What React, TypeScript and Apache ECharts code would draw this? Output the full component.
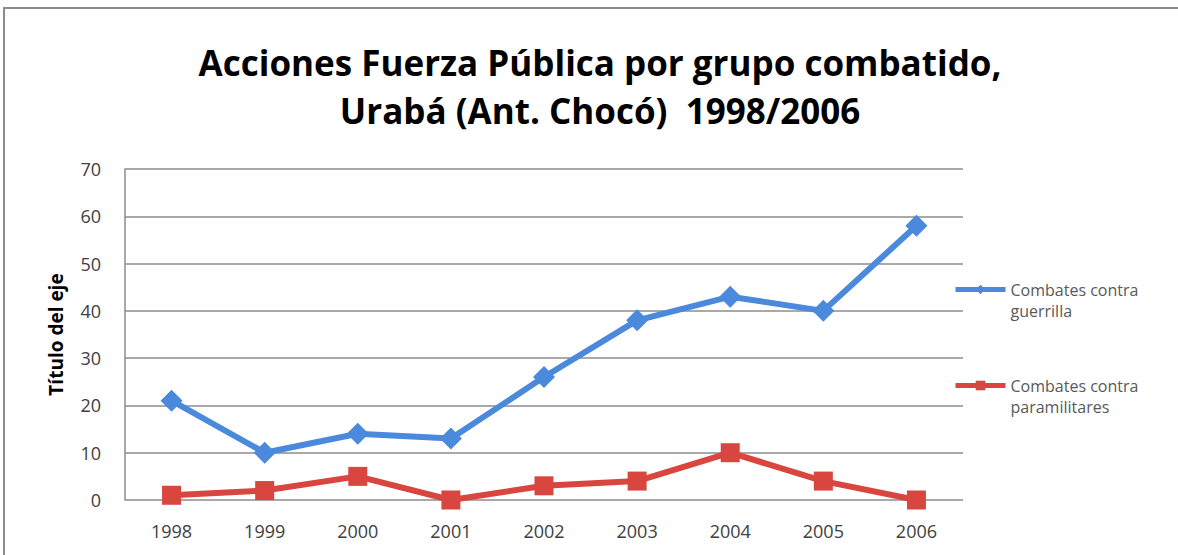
import React, { useEffect, useRef } from "react";
import * as echarts from "echarts";

const years = ["1998", "1999", "2000", "2001", "2002", "2003", "2004", "2005", "2006"];
const guerrilla = [21, 10, 14, 13, 26, 38, 43, 40, 58];
const paramilitares = [1, 2, 5, 0, 3, 4, 10, 4, 0];
const seriesNames = ["Combates contra guerrilla", "Combates contra paramilitares"];
const titleText = "Acciones Fuerza Pública por grupo combatido,\nUrabá (Ant. Chocó)  1998/2006";
const yAxisTitle = "Título del eje";

const FONT = "'Open Sans', Lato, sans-serif";
const BLUE = "#4a89dc";
const RED = "#d9453f";

export default function App() {
  const ref = useRef<HTMLDivElement>(null);
  useEffect(() => {
    const chart = echarts.init(ref.current!, null, { renderer: "svg" });
    const legendCommon = {
      left: 948,
      itemWidth: 50,
      itemHeight: 12,
      formatter: (n: string) => "\n" + n.replace("contra ", "contra\n"),
      textStyle: {
        color: "#595959",
        fontSize: 16,
        fontFamily: FONT,
        lineHeight: 21,
      },
      lineStyle: { width: 5 },
    };
    chart.setOption({
      animation: false,
      backgroundColor: "#ffffff",
      title: {
        text: titleText,
        left: 595,
        textAlign: "center",
        top: 33,
        textStyle: {
          fontFamily: FONT,
          fontWeight: "bold",
          fontSize: 35,
          lineHeight: 48,
          color: "#000000",
        },
      },
      graphic: [
        {
          type: "rect",
          shape: { x: 4, y: 8, width: 1200, height: 600 },
          style: { fill: "none", stroke: "#8c8c8c", lineWidth: 2 },
          silent: true,
          z: -1,
        },
      ],
      legend: [
        { ...legendCommon, data: [seriesNames[0]], top: 253 },
        { ...legendCommon, data: [seriesNames[1]], top: 349 },
      ],
      grid: { left: 125, right: 215, top: 169, bottom: 55, containLabel: false },
      xAxis: {
        type: "category",
        data: years,
        boundaryGap: true,
        axisLine: { show: false },
        axisTick: { show: false },
        axisLabel: {
          color: "#404040",
          fontSize: 18,
          fontFamily: FONT,
          margin: 22,
        },
      },
      yAxis: {
        type: "value",
        min: 0,
        max: 70,
        interval: 10,
        name: yAxisTitle,
        nameLocation: "middle",
        nameGap: 60,
        nameRotate: 90,
        nameTextStyle: {
          color: "#000000",
          fontWeight: "bold",
          fontSize: 19,
          fontFamily: FONT,
        },
        axisLine: { show: true, lineStyle: { color: "#8c8c8c", width: 1.5 } },
        axisTick: { show: false },
        splitLine: { show: true, lineStyle: { color: "#8c8c8c", width: 1.5 } },
        axisLabel: {
          color: "#404040",
          fontSize: 18,
          fontFamily: FONT,
          margin: 24,
        },
      },
      series: [
        {
          name: seriesNames[0],
          type: "line",
          data: guerrilla,
          color: BLUE,
          lineStyle: { width: 6, color: BLUE },
          itemStyle: { color: BLUE },
          symbol: "diamond",
          symbolSize: 22,
          z: 3,
        },
        {
          name: seriesNames[1],
          type: "line",
          data: paramilitares,
          color: RED,
          lineStyle: { width: 6, color: RED },
          itemStyle: { color: RED },
          symbol: "rect",
          symbolSize: 19,
          z: 2,
        },
      ],
    });
    return () => chart.dispose();
  }, []);
  return <div ref={ref} style={{ width: 1178, height: 555, position: "absolute", left: 0, top: 0 }} />;
}
